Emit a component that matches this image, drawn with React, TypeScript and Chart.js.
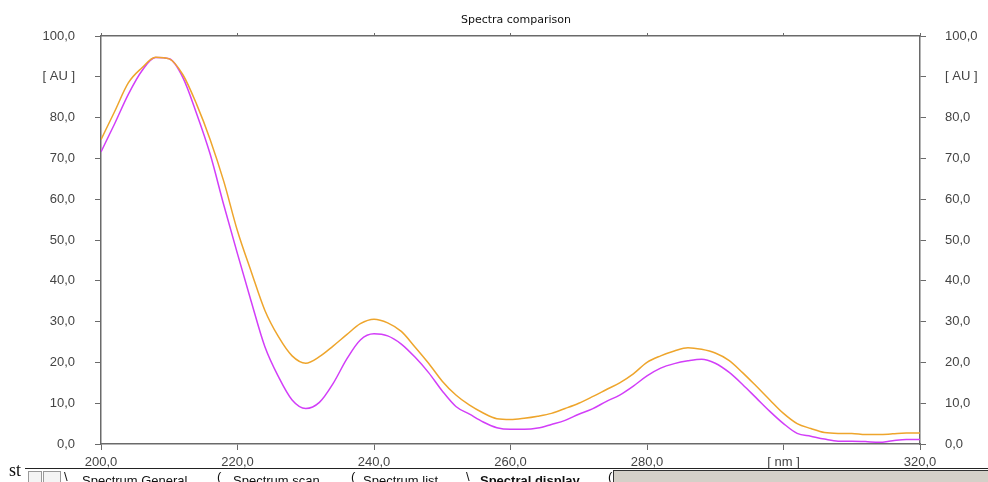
import React, { useEffect, useRef } from "react";
import { Chart, registerables } from "chart.js";

Chart.register(...registerables);

const TITLE = "Spectra comparison";
const wavelengths = [
  200, 202, 204, 206, 208, 210, 212, 214, 216, 218, 220, 222, 224, 226, 228, 230,
  232, 234, 236, 238, 240, 242, 244, 246, 248, 250, 252, 254, 256, 258, 260, 262,
  264, 266, 268, 270, 272, 274, 276, 278, 280, 282, 284, 286, 288, 290, 292, 294,
  296, 298, 300, 302, 304, 306, 308, 310, 312, 314, 316, 318, 320,
];
const spectrumOrange = [
  74.6, 81.5, 88.5, 92.2, 94.8, 94.4, 90.5, 83.3, 74.6, 64.3, 52.2, 42.3, 32.8, 26.3, 21.6, 19.8,
  21.4, 24.0, 26.8, 29.5, 30.6, 29.7, 27.6, 23.8, 19.8, 15.4, 12.0, 9.5, 7.6, 6.2, 6.0, 6.3,
  6.8, 7.5, 8.7, 10.0, 11.6, 13.3, 15.0, 17.2, 20.0, 21.6, 22.8, 23.6, 23.2, 22.3, 20.5, 17.5,
  14.2, 10.8, 7.5, 5.0, 3.8, 2.8, 2.6, 2.6, 2.3, 2.3, 2.5, 2.7, 2.7,
];
const spectrumMagenta = [
  71.6, 78.5, 85.7, 91.5, 94.7, 94.4, 89.8, 81.0, 71.0, 58.5, 46.6, 35.0, 23.9, 16.5, 10.8, 8.7,
  10.2, 14.8, 20.8, 25.5, 27.0, 26.5, 24.5, 21.3, 17.5, 13.0, 9.2, 7.3, 5.4, 4.0, 3.6, 3.6,
  3.9, 4.8, 5.8, 7.3, 8.6, 10.4, 12.0, 14.2, 16.7, 18.6, 19.7, 20.4, 20.8, 19.8, 17.6, 14.6,
  11.3, 8.0, 5.0, 2.6, 1.9, 1.2, 0.7, 0.7, 0.6, 0.4, 0.8, 1.1, 1.1,
];
const X_UNIT_LABEL = "[ nm ]";
const X_UNIT_AT = 300;
const Y_UNIT_LABEL = "[ AU ]";
const Y_UNIT_AT = 90;
const TAB_LABELS = ["Spectrum General", "Spectrum scan", "Spectrum list", "Spectral display"];

const AXIS = "#6a6a6a";
const TEXT = "#444444";

const fmt = (v: number) => v.toFixed(1).replace(".", ",");

const titlePlugin = {
  id: "customTitle",
  afterDraw(chart: any) {
    const ctx = chart.ctx;
    ctx.save();
    ctx.font = "11px 'DejaVu Sans', Verdana, sans-serif";
    ctx.fillStyle = "#111";
    ctx.textAlign = "center";
    ctx.textBaseline = "middle";
    ctx.fillText(TITLE, 516, 20);
    ctx.restore();
  },
};

export default function App() {
  const ref = useRef<HTMLCanvasElement | null>(null);

  useEffect(() => {
    if (!ref.current) return;
    const tickFont = { family: "'Liberation Sans', Arial, sans-serif", size: 13 };
    const chart = new Chart(ref.current, {
      type: "line",
      data: {
        datasets: [
          {
            label: "B",
            data: wavelengths.map((x, i) => ({ x, y: spectrumOrange[i] })),
            borderColor: "#EEA52C",
            borderWidth: 1.5,
            pointRadius: 0,
            cubicInterpolationMode: "monotone",
            fill: false,
          },
          {
            label: "A",
            data: wavelengths.map((x, i) => ({ x, y: spectrumMagenta[i] })),
            borderColor: "#D23EF8",
            borderWidth: 1.5,
            pointRadius: 0,
            cubicInterpolationMode: "monotone",
            fill: false,
          },
        ],
      },
      plugins: [titlePlugin],
      options: {
        animation: false,
        responsive: false,
        layout: { padding: { top: 30, left: 0, right: 0, bottom: 0 } },
        plugins: { legend: { display: false }, title: { display: false }, tooltip: { enabled: false } },
        scales: {
          x: {
            type: "linear",
            position: "bottom",
            min: 200,
            max: 320,
            afterFit: (s: any) => { s.height = 28; },
            ticks: {
              stepSize: 20,
              padding: 5,
              color: TEXT,
              font: tickFont,
              maxRotation: 0,
              callback: (v: any) => (Number(v) === X_UNIT_AT ? X_UNIT_LABEL : fmt(Number(v))),
            },
            grid: { drawOnChartArea: false, tickLength: 6, color: AXIS, lineWidth: 1 },
            border: { color: AXIS, width: 1.5 },
          },
          xTop: {
            type: "linear",
            position: "top",
            min: 200,
            max: 320,
            afterFit: (s: any) => { s.height = 6; },
            ticks: { stepSize: 20, callback: () => "", font: { size: 1 } },
            grid: { drawOnChartArea: false, tickLength: 3, color: AXIS, lineWidth: 1 },
            border: { color: AXIS, width: 1.5 },
          },
          y: {
            type: "linear",
            position: "left",
            min: 0,
            max: 100,
            afterFit: (s: any) => { s.width = 101; },
            ticks: {
              stepSize: 10,
              padding: 20,
              color: TEXT,
              font: tickFont,
              callback: (v: any) => (Number(v) === Y_UNIT_AT ? Y_UNIT_LABEL : fmt(Number(v))),
            },
            grid: { drawOnChartArea: false, tickLength: 6, color: AXIS, lineWidth: 1 },
            border: { color: AXIS, width: 1.5 },
          },
          yRight: {
            type: "linear",
            position: "right",
            min: 0,
            max: 100,
            afterFit: (s: any) => { s.width = 68; },
            ticks: {
              stepSize: 10,
              padding: 19,
              color: TEXT,
              font: tickFont,
              callback: (v: any) => (Number(v) === Y_UNIT_AT ? Y_UNIT_LABEL : fmt(Number(v))),
            },
            grid: { drawOnChartArea: false, tickLength: 6, color: AXIS, lineWidth: 1 },
            border: { color: AXIS, width: 1.5 },
          },
        },
      } as any,
    });
    return () => chart.destroy();
  }, []);

  const tabFont = "'Liberation Sans', Arial, sans-serif";
  return (
    <div style={{ position: "absolute", left: 0, top: 0, width: 988, height: 482, overflow: "hidden", background: "#fff" }}>
      <canvas ref={ref} width={988} height={472} style={{ position: "absolute", left: 0, top: 0, width: 988, height: 472 }} />
      <div style={{ position: "absolute", left: 0, top: 469, width: 988, height: 13, background: "#fff" }} />
      <div style={{ position: "absolute", left: 9, top: 460, fontFamily: "'Liberation Serif', serif", fontSize: 18, color: "#111" }}>st</div>
      <div style={{ position: "absolute", left: 25, top: 468, width: 963, borderTop: "1px solid #222" }} />
      <div style={{ position: "absolute", left: 28, top: 471, width: 12, height: 12, border: "1px solid #999", background: "#f4f4f4" }} />
      <div style={{ position: "absolute", left: 43, top: 471, width: 16, height: 12, border: "1px solid #999", background: "#f4f4f4" }} />
      <div style={{ position: "absolute", left: 64, top: 469, fontFamily: tabFont, fontSize: 13, color: "#111" }}>\</div>
      <div style={{ position: "absolute", left: 82, top: 473, fontFamily: tabFont, fontSize: 13, color: "#111" }}>{TAB_LABELS[0]}</div>
      <div style={{ position: "absolute", left: 217, top: 469, fontFamily: tabFont, fontSize: 13, color: "#111" }}>(</div>
      <div style={{ position: "absolute", left: 233, top: 473, fontFamily: tabFont, fontSize: 13, color: "#111" }}>{TAB_LABELS[1]}</div>
      <div style={{ position: "absolute", left: 351, top: 469, fontFamily: tabFont, fontSize: 13, color: "#111" }}>(</div>
      <div style={{ position: "absolute", left: 363, top: 473, fontFamily: tabFont, fontSize: 13, color: "#111" }}>{TAB_LABELS[2]}</div>
      <div style={{ position: "absolute", left: 466, top: 469, fontFamily: tabFont, fontSize: 13, color: "#111" }}>\</div>
      <div style={{ position: "absolute", left: 480, top: 473, fontFamily: tabFont, fontSize: 13, fontWeight: "bold", color: "#111" }}>{TAB_LABELS[3]}</div>
      <div style={{ position: "absolute", left: 608, top: 469, fontFamily: tabFont, fontSize: 13, color: "#111" }}>(</div>
      <div style={{ position: "absolute", left: 613, top: 470, width: 375, height: 12, background: "#d4d0c8", borderTop: "1px solid #333", borderLeft: "1px solid #333" }} />
    </div>
  );
}
